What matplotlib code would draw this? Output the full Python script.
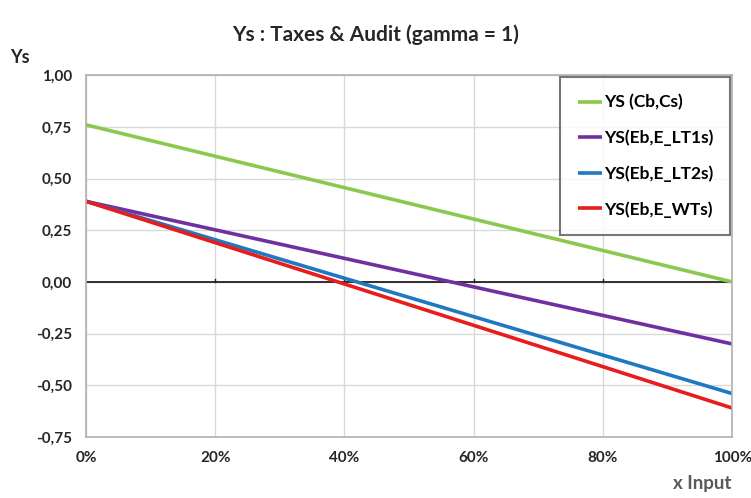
import matplotlib.pyplot as plt
from matplotlib.ticker import FuncFormatter

plt.rcParams['font.family'] = ['Lato', 'DejaVu Sans']
plt.rcParams['font.weight'] = 'bold'

# Daten (x in Prozent)
x = [0, 100]
ys_cb_cs = [0.76, 0.00]
ys_lt1 = [0.39, -0.30]
ys_lt2 = [0.39, -0.54]
ys_wt = [0.39, -0.61]

series = [
    ('YS (Cb,Cs)', ys_cb_cs, '#8cc850'),
    ('YS(Eb,E_LT1s)', ys_lt1, '#7030a0'),
    ('YS(Eb,E_LT2s)', ys_lt2, '#1f78c0'),
    ('YS(Eb,E_WTs)', ys_wt, '#e81c1c'),
]

fig = plt.figure(figsize=(7.51, 4.98), dpi=100)
ax = fig.add_axes([0.1145, 0.1225, 0.8605, 0.7265])

for label, vals, col in series:
    ax.plot(x, vals, color=col, lw=2.6, label=label, solid_capstyle='butt')

ax.axhline(0, color='#222222', lw=1.3, zorder=1)
# kleine Striche auf der Nulllinie
for t in [20, 40, 60, 80]:
    ax.plot([t, t], [0, 0.015], color='#222222', lw=1.0, zorder=1)
ax.set_xlim(0, 100)
ax.set_ylim(-0.75, 1.0)
ax.set_xticks([0, 20, 40, 60, 80, 100])
ax.set_yticks([-0.75, -0.5, -0.25, 0, 0.25, 0.5, 0.75, 1.0])
ax.xaxis.set_major_formatter(FuncFormatter(lambda v, p: '%d%%' % v))
ax.yaxis.set_major_formatter(FuncFormatter(lambda v, p: ('%.2f' % v).replace('.', ',')))
ax.grid(True, color='#d9d9d9', lw=1)
ax.set_axisbelow(True)
ax.tick_params(length=0, labelsize=11, colors='#262626', pad=10)
for s in ax.spines.values():
    s.set_color('#b0b0b0')
    s.set_linewidth(1.2)

leg = ax.legend(loc='upper right', handlelength=1.4, handletextpad=0.1,
                labelspacing=1.1, borderpad=1.0, borderaxespad=0.1,
                fancybox=False, edgecolor='#555555', fontsize=12.5)
leg.get_frame().set_linewidth(1.5)

fig.text(0.5, 0.93, 'Ys : Taxes & Audit (gamma = 1)', ha='center', va='center',
         fontsize=15, fontweight='bold', color='#262626')
fig.text(0.027, 0.885, 'Ys', ha='center', va='center', fontsize=13,
         fontweight='bold', color='#262626')
fig.text(0.935, 0.03, 'x Input', ha='center', va='center', fontsize=13.5,
         fontweight='bold', color='#595959')

fig.savefig('out.png', dpi=100)
